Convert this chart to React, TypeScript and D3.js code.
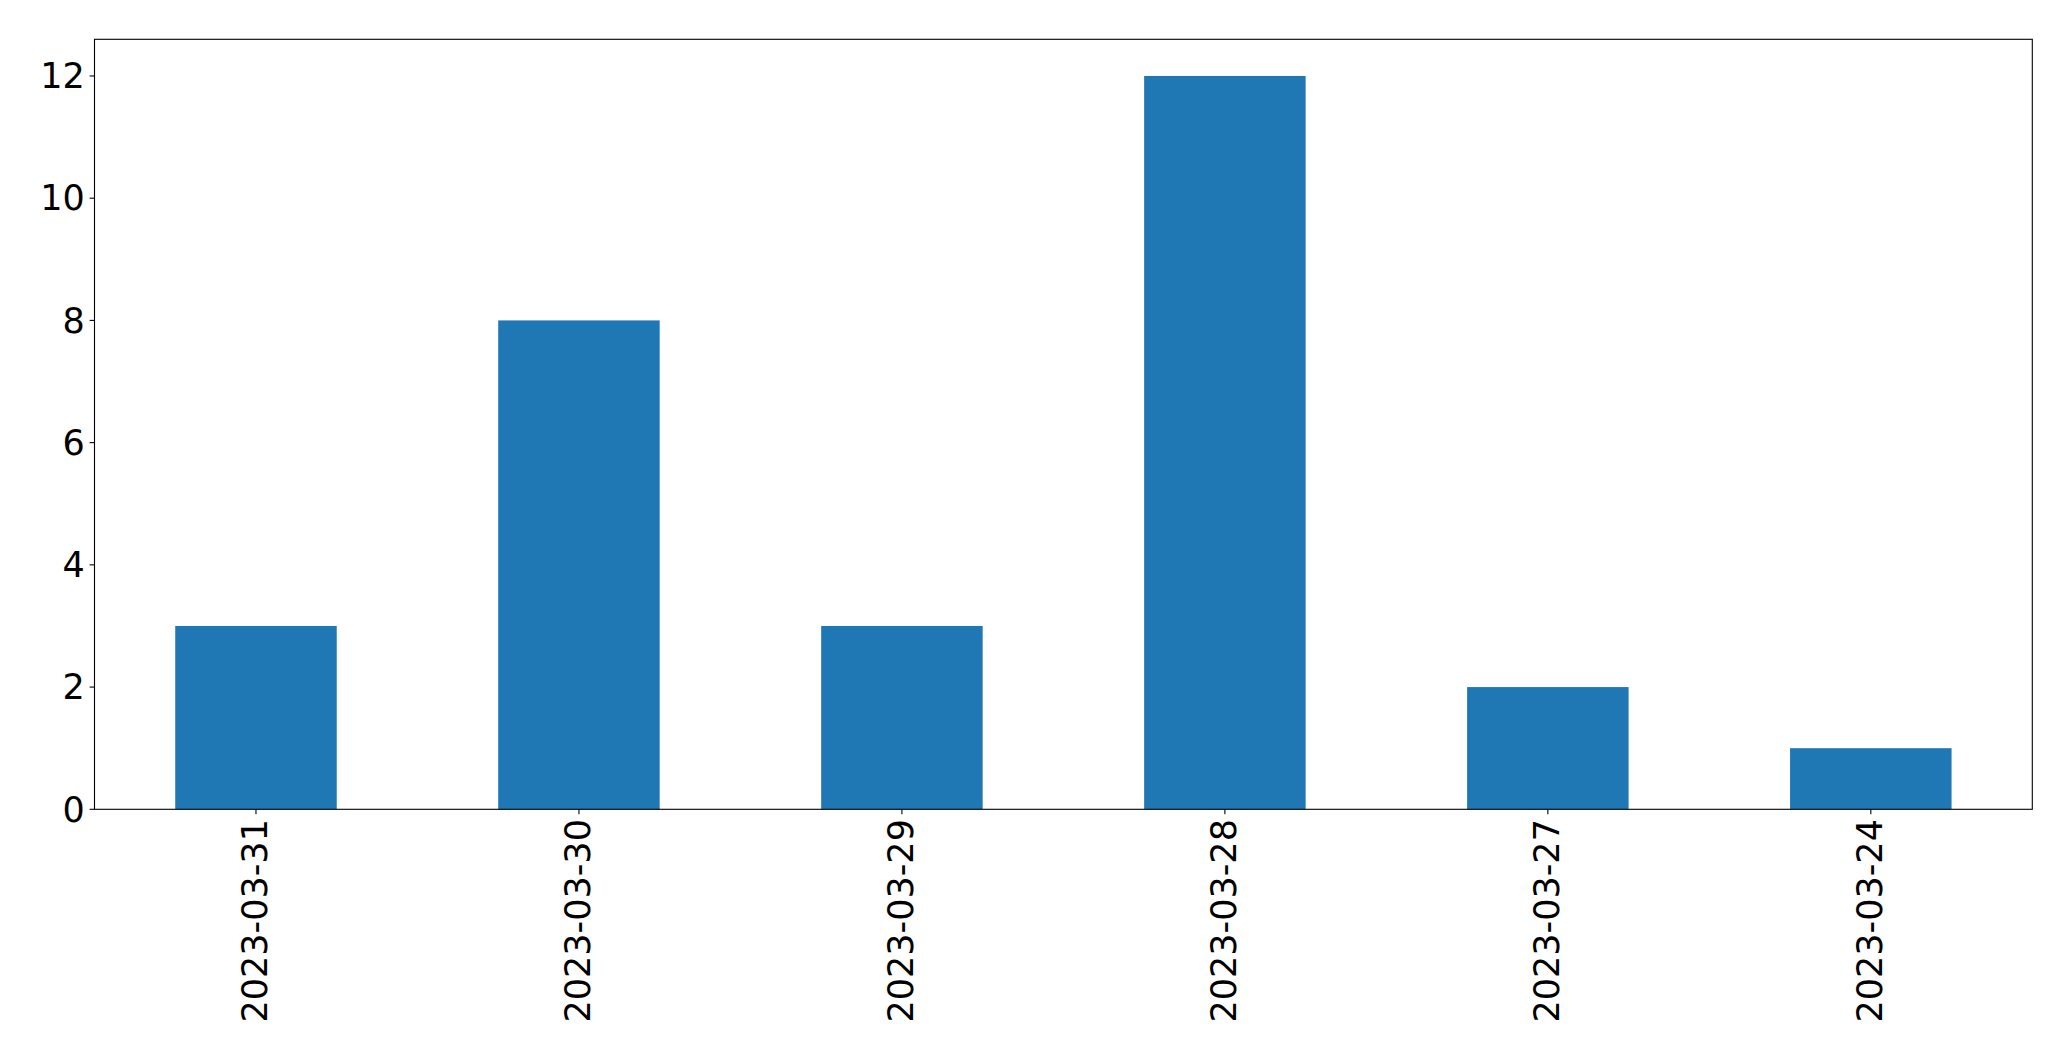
import React from "react";
import * as d3 from "d3";

const categories = ["2023-03-31", "2023-03-30", "2023-03-29", "2023-03-28", "2023-03-27", "2023-03-24"];
const values = [3, 8, 3, 12, 2, 1];
const yTicks = [0, 2, 4, 6, 8, 10, 12];

const W = 2071;
const H = 1061;
const left = 94.5;
const right = 2032.3;
const top = 39.3;
const bottom = 809.3;
const fontSize = 35;
const tickLen = 4.9;
const pad = 4.9;

export default function App() {
  const x = d3.scaleLinear().domain([-0.5, categories.length - 0.5]).range([left, right]);
  const yMax = d3.max(values)! * 1.05;
  const y = d3.scaleLinear().domain([0, yMax]).range([bottom, top]);
  const barW = x(0.25) - x(-0.25);
  return (
    <svg width={W} height={H} style={{ position: "absolute", left: 0, top: 0, background: "#fff" }}
      fontFamily="DejaVu Sans" fontSize={fontSize}>
      <rect x={0} y={0} width={W} height={H} fill="#fff" />
      {values.map((v, i) => (
        <rect key={i} x={x(i) - barW / 2} y={y(v)} width={barW} height={y(0) - y(v)} fill="#1f77b4" />
      ))}
      <rect x={left} y={top} width={right - left} height={bottom - top} fill="none" stroke="#000" strokeWidth={1.1} />
      {yTicks.map((t) => (
        <g key={t}>
          <line x1={left - tickLen} x2={left} y1={y(t)} y2={y(t)} stroke="#000" strokeWidth={1.1} />
          <text x={left - tickLen - pad} y={y(t)} dy="0.35em" textAnchor="end" fill="#000">{t}</text>
        </g>
      ))}
      {categories.map((c, i) => (
        <g key={c}>
          <line x1={x(i)} x2={x(i)} y1={bottom} y2={bottom + tickLen} stroke="#000" strokeWidth={1.1} />
          <text transform={`translate(${x(i)},${bottom + tickLen + pad}) rotate(-90)`} dy="0.32em"
            textAnchor="end" fill="#000">{c}</text>
        </g>
      ))}
    </svg>
  );
}
